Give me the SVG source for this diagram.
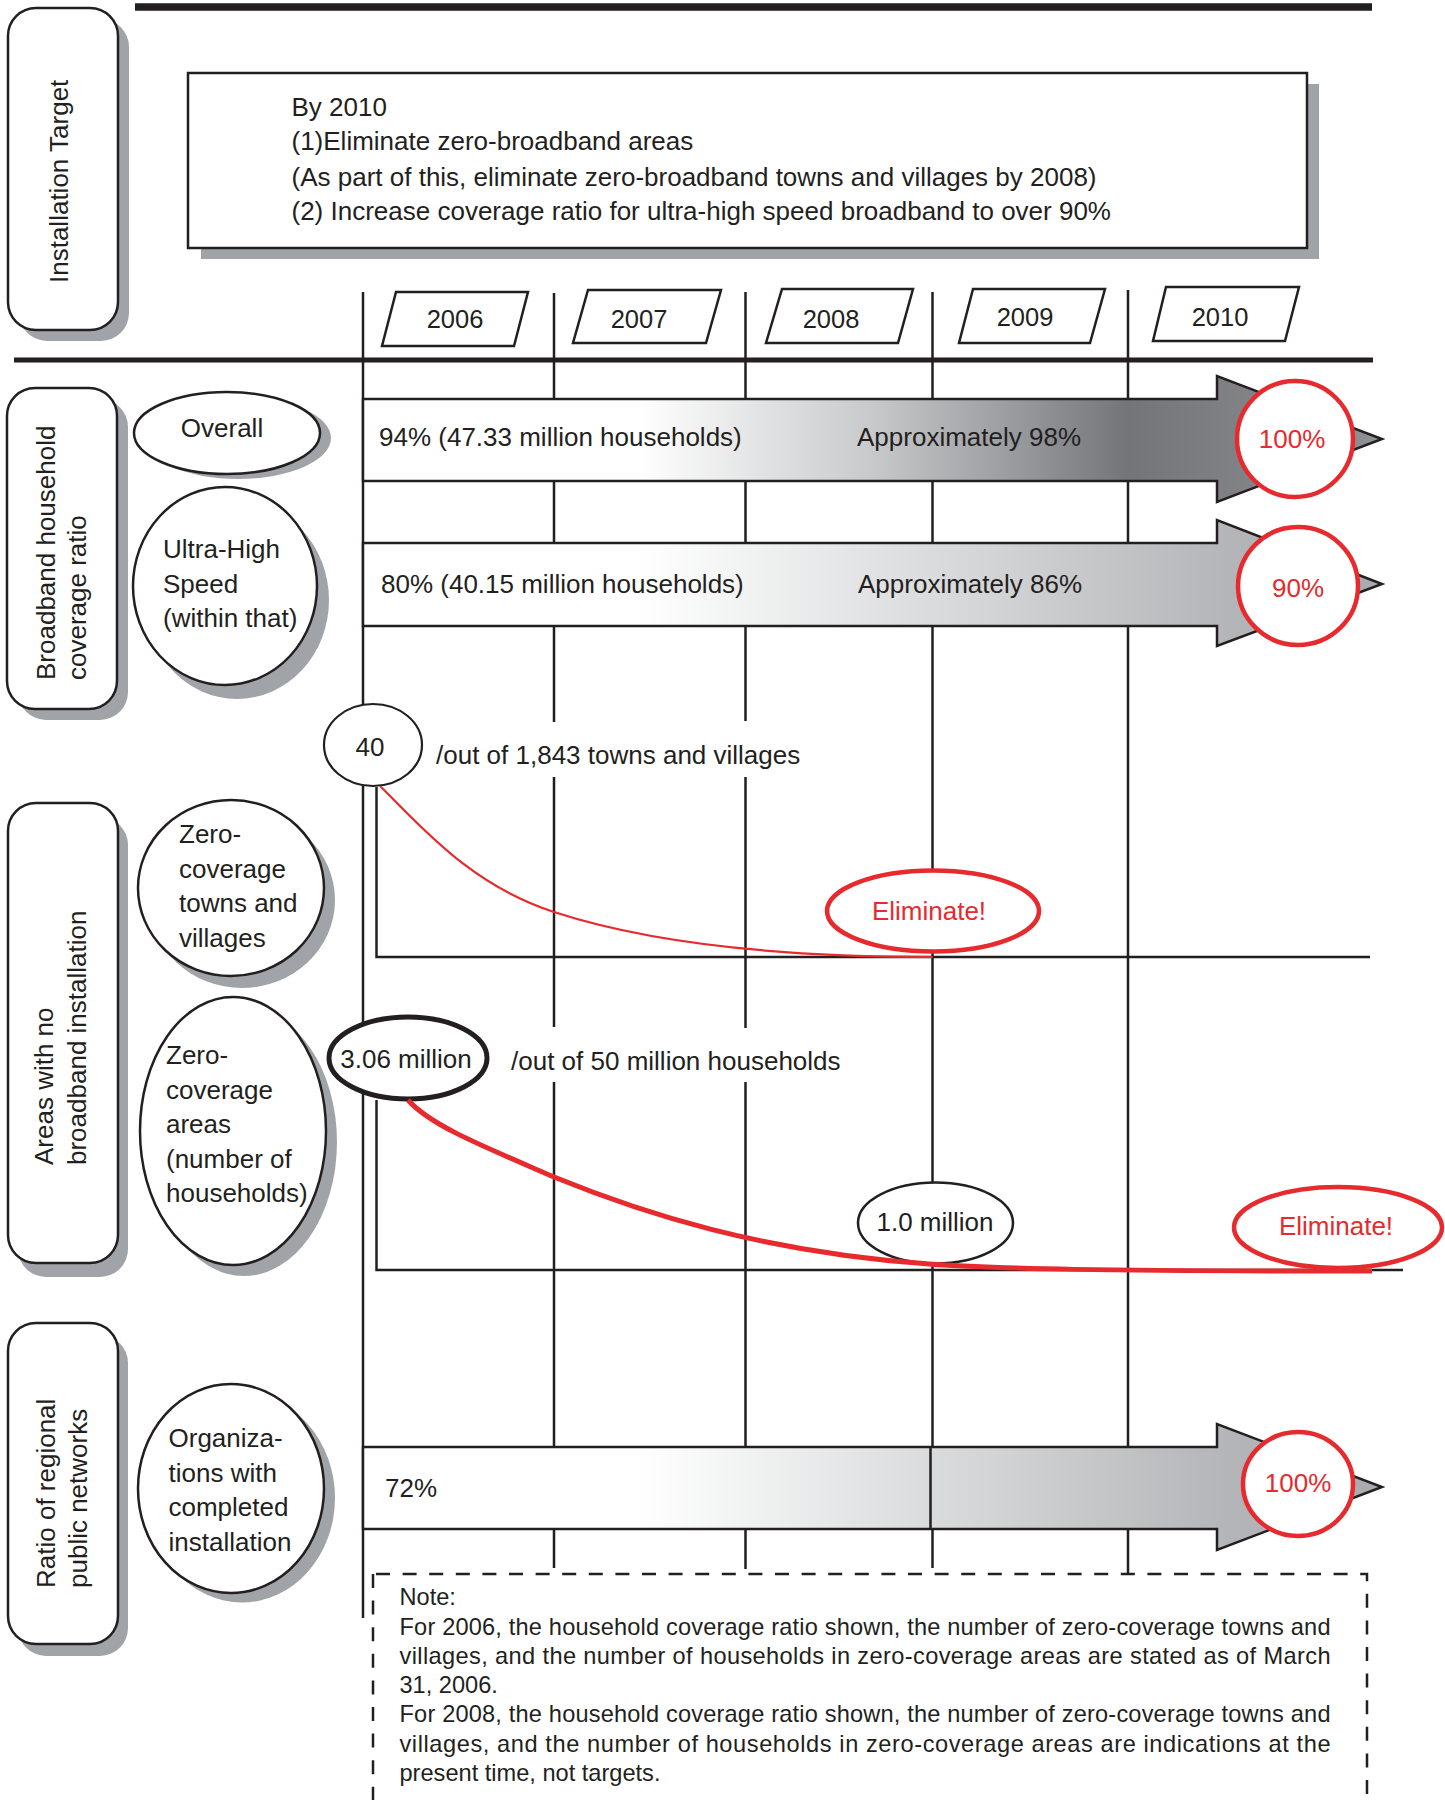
<svg xmlns="http://www.w3.org/2000/svg" width="1445" height="1800" viewBox="0 0 1445 1800">
  <style>
    .t { font-family: "Liberation Sans", Arial, Helvetica, sans-serif; font-size: 26px; fill: #231f20; }
    .yr { font-size: 25.5px; text-anchor: middle; }
    .note { font-size: 23.6px; }
    .red { fill: #e62a2e; }
    .mid { text-anchor: middle; }
    .ln { stroke: #231f20; stroke-width: 2.5; fill: none; }
    .sh { fill: #a0a4a9; }
    .box { fill: #ffffff; stroke: #231f20; stroke-width: 2.5; }
    .ring { fill: #ffffff; stroke: #e62a2e; stroke-width: 4.5; }
    .bar { stroke: #231f20; stroke-width: 2.5; }
  </style>
  <defs>
    <linearGradient id="gOverall" gradientUnits="userSpaceOnUse" x1="363" y1="0" x2="1382" y2="0">
      <stop offset="0" stop-color="#ffffff"/>
      <stop offset="0.27" stop-color="#ffffff"/>
      <stop offset="0.5" stop-color="#c8c9cb"/>
      <stop offset="0.75" stop-color="#747579"/>
      <stop offset="1" stop-color="#909195"/>
    </linearGradient>
    <linearGradient id="gLight" gradientUnits="userSpaceOnUse" x1="363" y1="0" x2="1382" y2="0">
      <stop offset="0" stop-color="#ffffff"/>
      <stop offset="0.27" stop-color="#ffffff"/>
      <stop offset="0.6" stop-color="#d5d6d8"/>
      <stop offset="0.85" stop-color="#b4b5b8"/>
      <stop offset="1" stop-color="#a9aaad"/>
    </linearGradient>
  </defs>

  <!-- header rules -->
  <line x1="135" y1="7" x2="1372" y2="7" stroke="#231f20" stroke-width="7.5"/>
  <line x1="14" y1="360" x2="1373" y2="360" stroke="#231f20" stroke-width="5"/>

  <!-- row headers -->
  <g id="hdr-installation-target">
    <rect class="sh" x="19" y="19" width="110" height="322" rx="28"/>
    <rect class="box" x="8" y="8" width="110" height="322" rx="28"/>
    <text class="t" font-size="25.5" transform="translate(68,283) rotate(-90)">Installation Target</text>
  </g>
  <g id="hdr-coverage-ratio">
    <rect class="sh" x="18" y="399" width="110" height="321" rx="28"/>
    <rect class="box" x="7" y="388" width="110" height="321" rx="28"/>
    <text class="t" transform="translate(55,680) rotate(-90)">
      <tspan x="0" y="0">Broadband household</tspan>
      <tspan x="0" y="31">coverage ratio</tspan>
    </text>
  </g>
  <g id="hdr-no-broadband">
    <rect class="sh" x="18" y="817" width="110" height="460" rx="28"/>
    <rect class="box" x="8" y="803" width="110" height="460" rx="28"/>
    <text class="t" transform="translate(53,1165) rotate(-90)">
      <tspan x="0" y="0">Areas with no</tspan>
      <tspan x="0" y="33">broadband installation</tspan>
    </text>
  </g>
  <g id="hdr-public-networks">
    <rect class="sh" x="18" y="1335" width="110" height="321" rx="28"/>
    <rect class="box" x="8" y="1323" width="110" height="321" rx="28"/>
    <text class="t" transform="translate(55,1588) rotate(-90)">
      <tspan x="0" y="0">Ratio of regional</tspan>
      <tspan x="0" y="32">public networks</tspan>
    </text>
  </g>

  <!-- target statement -->
  <g id="target-box">
    <rect class="sh" x="201" y="84" width="1118" height="175"/>
    <rect class="box" x="188" y="73" width="1119" height="175"/>
    <text class="t" x="291.5" y="116">By 2010</text>
    <text class="t" x="291.5" y="150">(1)Eliminate zero-broadband areas</text>
    <text class="t" x="291.5" y="186">(As part of this, eliminate zero-broadband towns and villages by 2008)</text>
    <text class="t" x="291.5" y="220">(2) Increase coverage ratio for ultra-high speed broadband to over 90%</text>
  </g>

  <!-- year columns -->
  <g id="year-grid">
    <line class="ln" x1="363" y1="292" x2="363" y2="1618"/>
    <path class="ln" d="M554,293 V722 M554,777 V1027 M554,1082 V1568"/>
    <path class="ln" d="M745.5,292 V721 M745.5,777 V1028 M745.5,1082 V1569"/>
    <line class="ln" x1="932.5" y1="292" x2="932.5" y2="1568"/>
    <line class="ln" x1="1128" y1="290" x2="1128" y2="1573"/>
  </g>
  <g id="year-2006">
    <polygon class="box" points="396,292 528,292 514,346 382,346"/>
    <text class="t yr" x="455" y="328">2006</text>
  </g>
  <g id="year-2007">
    <polygon class="box" points="588,290 721,290 706,343 573,343"/>
    <text class="t yr" x="639" y="328">2007</text>
  </g>
  <g id="year-2008">
    <polygon class="box" points="782,289 913,289 898,343 766,343"/>
    <text class="t yr" x="831" y="328">2008</text>
  </g>
  <g id="year-2009">
    <polygon class="box" points="973,289 1105,289 1090,343 959,343"/>
    <text class="t yr" x="1025" y="326">2009</text>
  </g>
  <g id="year-2010">
    <polygon class="box" points="1166,287 1299,287 1285,341 1153,341"/>
    <text class="t yr" x="1220" y="326">2010</text>
  </g>

  <!-- row labels -->
  <g id="lbl-overall">
    <ellipse class="sh" cx="238" cy="438" rx="93" ry="41"/>
    <ellipse class="box" cx="227" cy="433" rx="93" ry="41"/>
    <text class="t mid" x="222" y="437">Overall</text>
  </g>
  <g id="lbl-ultra-high">
    <ellipse class="sh" cx="237" cy="600" rx="92" ry="99"/>
    <ellipse class="box" cx="225" cy="586" rx="92" ry="99"/>
    <text class="t">
      <tspan x="163" y="558">Ultra-High</tspan>
      <tspan x="163" y="592.5">Speed</tspan>
      <tspan x="163" y="627">(within that)</tspan>
    </text>
  </g>
  <g id="lbl-zero-towns">
    <ellipse class="sh" cx="242" cy="900" rx="93" ry="88"/>
    <ellipse class="box" cx="231" cy="888" rx="93" ry="88"/>
    <text class="t">
      <tspan x="179" y="843">Zero-</tspan>
      <tspan x="179" y="877.5">coverage</tspan>
      <tspan x="179" y="912">towns and</tspan>
      <tspan x="179" y="946.5">villages</tspan>
    </text>
  </g>
  <g id="lbl-zero-areas">
    <ellipse class="sh" cx="244" cy="1142" rx="93" ry="134"/>
    <ellipse class="box" cx="233" cy="1131" rx="93" ry="134"/>
    <text class="t">
      <tspan x="166" y="1064">Zero-</tspan>
      <tspan x="166" y="1098.5">coverage</tspan>
      <tspan x="166" y="1133">areas</tspan>
      <tspan x="166" y="1167.5">(number of</tspan>
      <tspan x="166" y="1202">households)</tspan>
    </text>
  </g>
  <g id="lbl-organizations">
    <ellipse class="sh" cx="242" cy="1498" rx="93" ry="104.5"/>
    <ellipse class="box" cx="231" cy="1488.5" rx="93" ry="104.5"/>
    <text class="t">
      <tspan x="168.5" y="1447">Organiza-</tspan>
      <tspan x="168.5" y="1481.5">tions with</tspan>
      <tspan x="168.5" y="1516">completed</tspan>
      <tspan x="168.5" y="1550.5">installation</tspan>
    </text>
  </g>

  <!-- progress arrows -->
  <g id="arrow-overall">
    <path class="bar" fill="url(#gOverall)" d="M363,399 H1217 V376 L1382,439 L1217,502 V481 H363 Z"/>
    <text class="t" x="379" y="446">94% (47.33 million households)</text>
    <text class="t" x="857" y="446">Approximately 98%</text>
    <circle class="ring" cx="1295" cy="439" r="58"/>
    <text class="t red mid" font-size="24.5" x="1292" y="448">100%</text>
  </g>
  <g id="arrow-ultra-high">
    <path class="bar" fill="url(#gLight)" d="M363,543 H1217 V520 L1382,584 L1217,646 V626 H363 Z"/>
    <text class="t" x="381" y="592.5">80% (40.15 million households)</text>
    <text class="t" x="858" y="592.5">Approximately 86%</text>
    <ellipse class="ring" cx="1298" cy="586" rx="60" ry="59"/>
    <text class="t red mid" font-size="24.5" x="1298" y="597">90%</text>
  </g>
  <g id="arrow-networks">
    <path class="bar" fill="url(#gLight)" d="M363,1447 H1217 V1424 L1382,1487 L1217,1550 V1529 H363 Z"/>
    <line class="ln" x1="930.5" y1="1447" x2="930.5" y2="1529"/>
    <text class="t" x="385" y="1497">72%</text>
    <ellipse class="ring" cx="1298" cy="1484" rx="55" ry="52"/>
    <text class="t red mid" font-size="24.5" x="1298" y="1492">100%</text>
  </g>

  <!-- decline charts: axes -->
  <g id="axes">
    <path class="ln" d="M376.5,787 V957 H1370"/>
    <path class="ln" d="M376.5,1100 V1270 H1403"/>
  </g>

  <!-- value markers -->
  <g id="val-40">
    <ellipse cx="373" cy="745" rx="49" ry="41" fill="#ffffff" stroke="#231f20" stroke-width="2.2"/>
    <text class="t mid" font-size="25" x="370" y="756">40</text>
  </g>
  <text class="t" x="436" y="764">/out of 1,843 towns and villages</text>
  <g id="val-306">
    <ellipse cx="408" cy="1058" rx="79" ry="41" fill="#ffffff" stroke="#231f20" stroke-width="5"/>
    <text class="t mid" x="406" y="1068">3.06 million</text>
  </g>
  <text class="t" x="511" y="1070">/out of 50 million households</text>
  <g id="val-10">
    <ellipse cx="935.5" cy="1223" rx="77.5" ry="40.5" fill="#ffffff" stroke="#231f20" stroke-width="2.5"/>
    <text class="t mid" x="935" y="1231">1.0 million</text>
  </g>
  <g id="elim-towns">
    <ellipse class="ring" stroke-width="5" cx="933" cy="911" rx="106" ry="40.5"/>
    <text class="t red mid" x="929" y="920">Eliminate!</text>
  </g>
  <g id="elim-areas">
    <ellipse class="ring" stroke-width="5" cx="1338" cy="1227.5" rx="104" ry="40.5"/>
    <text class="t red mid" x="1336" y="1235">Eliminate!</text>
  </g>

  <!-- decline curves -->
  <g id="connectors" fill="none" stroke="#e62a2e" stroke-linecap="round">
    <path stroke-width="2.2" d="M381,787 C420,825 470,885 554,912 C640,940 760,957 932,957"/>
    <path stroke-width="5" stroke-linecap="butt" d="M408,1100 C430,1125 480,1145 554,1177 C640,1212 760,1252 929,1264 C1000,1269 1100,1271 1372,1271"/>
  </g>

  <!-- note -->
  <g id="note">
    <path d="M376,1574 H1367 V1800 M373,1574 V1800" fill="none" stroke="#231f20" stroke-width="2.5" stroke-dasharray="14 12.6"/>
    <text class="t note" x="399.5" y="1605">Note:</text>
    <text class="t note" x="399.5" y="1634.5" textLength="931" lengthAdjust="spacing">For 2006, the household coverage ratio shown, the number of zero-coverage towns and</text>
    <text class="t note" x="399.5" y="1664" textLength="931" lengthAdjust="spacing">villages, and the number of households in zero-coverage areas are stated as of March</text>
    <text class="t note" x="399.5" y="1693">31, 2006.</text>
    <text class="t note" x="399.5" y="1722" textLength="931" lengthAdjust="spacing">For 2008, the household coverage ratio shown, the number of zero-coverage towns and</text>
    <text class="t note" x="399.5" y="1751.5" textLength="931" lengthAdjust="spacing">villages, and the number of households in zero-coverage areas are indications at the</text>
    <text class="t note" x="399.5" y="1781">present time, not targets.</text>
  </g>
</svg>
